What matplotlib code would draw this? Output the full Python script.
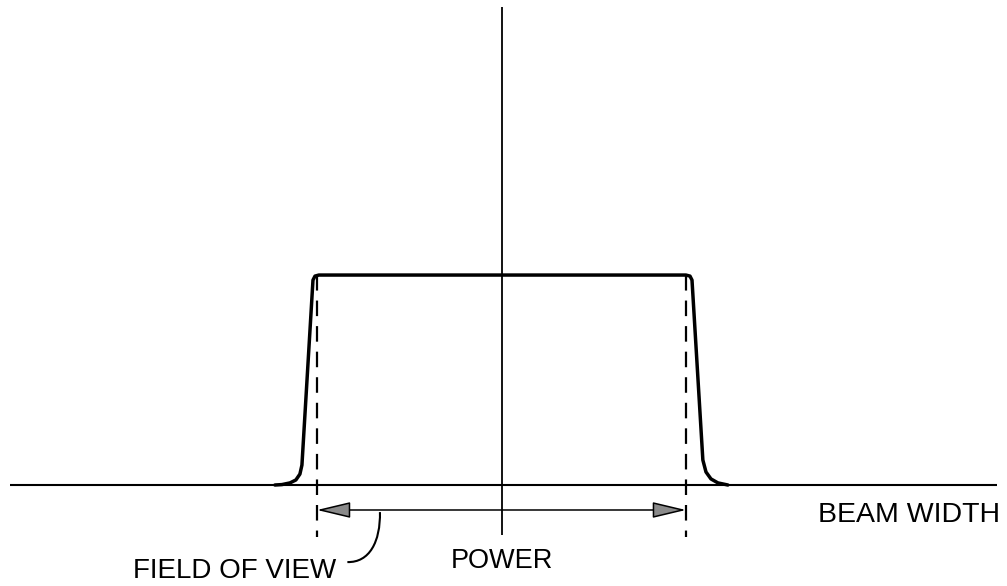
import matplotlib
matplotlib.use("Agg")
import matplotlib.pyplot as plt
from matplotlib.patches import FancyArrowPatch, PathPatch
from matplotlib.path import Path

# ---- data (beam position: field of view edges at +/-1 ; power: plateau = 1) ----
profile_x = [-1.234, -1.196, -1.152, -1.120, -1.098, -1.087, -1.027, -1.016, -0.995,
             0.0, 1.000, 1.022, 1.033, 1.092, 1.109, 1.136, 1.174, 1.228]
profile_p = [0.0, 0.002, 0.010, 0.024, 0.052, 0.095, 0.976, 0.995, 1.0,
             1.0, 1.0, 0.995, 0.976, 0.119, 0.062, 0.029, 0.010, 0.0]
fov_edges = [-1.005, 1.0]
fov_top, fov_bottom = 1.0, -0.248
arrow_level = -0.119
axis_x = [-2.674, 2.690]
axis_p = [-0.238, 2.276]
leader_x = [-0.663, -0.660, -0.720, -0.840]
leader_p = [-0.129, -0.270, -0.370, -0.367]
labels = ["BEAM WIDTH", "FIELD OF VIEW", "POWER"]

fig = plt.figure(figsize=(10.07, 5.86), dpi=100)
ax = fig.add_axes([0, 0, 1, 1])
ax.set_xlim(-2.728, 2.745)
ax.set_ylim(-0.481, 2.310)
ax.axis("off")

fam = ["Liberation Sans", "DejaVu Sans"]

# axes
ax.plot(axis_x, [0, 0], color="black", lw=1.5, solid_capstyle="butt")
ax.plot([0, 0], axis_p, color="black", lw=1.3, solid_capstyle="butt")

# profile
ax.plot(profile_x, profile_p, color="black", lw=2.5, solid_joinstyle="round",
        solid_capstyle="round")

# dashed field-of-view lines
for xe in fov_edges:
    ln, = ax.plot([xe, xe], [fov_top, fov_bottom], color="black", lw=1.6)
    ln.set_dashes([7.0, 4.5])

# double arrow
arr = FancyArrowPatch(posA=(fov_edges[0], arrow_level), posB=(fov_edges[1], arrow_level),
                      arrowstyle="<|-|>,head_length=21,head_width=5",
                      mutation_scale=1, shrinkA=0, shrinkB=0,
                      facecolor="#8a8a8a", edgecolor="black", lw=1.1)
ax.add_patch(arr)

# leader curve
verts = list(zip(leader_x, leader_p))
path = Path(verts, [Path.MOVETO, Path.CURVE4, Path.CURVE4, Path.CURVE4])
ax.add_patch(PathPatch(path, facecolor="none", edgecolor="black", lw=1.5))

# labels
ax.text(2.707, -0.176, labels[0], ha="right", va="baseline", fontsize=20.5, family=fam)
ax.text(-2.005, -0.443, labels[1], ha="left", va="baseline", fontsize=20, family=fam)
ax.text(0.0, -0.395, labels[2], ha="center", va="baseline", fontsize=19.5, family=fam)

fig.savefig("out.png", dpi=100)
